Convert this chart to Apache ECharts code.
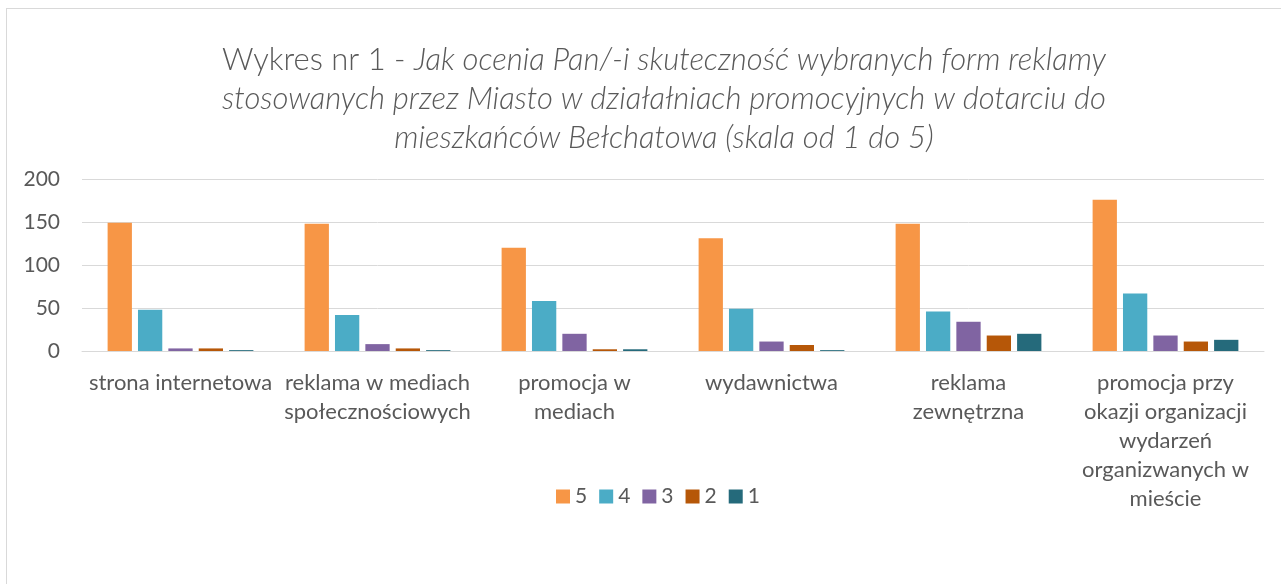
<!DOCTYPE html>
<html>
<head>
<meta charset="utf-8">
<script src="https://cdn.jsdelivr.net/npm/echarts@6/dist/echarts.min.js"></script>
<style>
  html, body { margin: 0; padding: 0; background: #fff; }
  #frame { position: absolute; left: 6px; top: 8px; width: 1300px; height: 600px; border: 1px solid #d9d9d9; box-sizing: border-box; }
  #chart { position: absolute; left: 0; top: 0; width: 1281px; height: 584px; }
</style>
</head>
<body>
<div id="frame"></div>
<div id="chart"></div>
<script>
const categories = [
  "strona internetowa",
  "reklama w mediach\nspołecznościowych",
  "promocja w\nmediach",
  "wydawnictwa",
  "reklama\nzewnętrzna",
  "promocja przy\nokazji organizacji\nwydarzeń\norganizwanych w\nmieście"
];
const seriesNames = ["5", "4", "3", "2", "1"];
const values5 = [149, 148, 120, 131, 148, 176];
const values4 = [48, 42, 58, 49, 46, 67];
const values3 = [3, 8, 20, 11, 34, 18];
const values2 = [3, 3, 2, 7, 18, 11];
const values1 = [1, 1, 2, 1, 20, 13];
const yTicks = { min: 0, max: 200, interval: 50 };
const colors = ["#F79646", "#4BACC6", "#8064A2", "#B65708", "#256A7B"];
const titleText = '{n|Wykres nr 1 - }{i|Jak ocenia Pan/-i skuteczność wybranych form reklamy}\n{i|stosowanych przez Miasto w działałniach promocyjnych w dotarciu do}\n{i|mieszkańców Bełchatowa (skala od 1 do 5)}';

const allValues = [values5, values4, values3, values2, values1];
const textColor = "#595959";
const font = "Lato, 'Liberation Sans', sans-serif";

const chart = echarts.init(document.getElementById('chart'), null, { renderer: 'canvas' });
chart.setOption({
  animation: false,
  backgroundColor: 'transparent',
  color: colors,
  graphic: [{
    type: 'text',
    x: 664,
    y: 40,
    style: {
      text: titleText,
      align: 'center',
      verticalAlign: 'top',
      rich: {
        n: { fontFamily: font, fontSize: 31, fontWeight: 300, fill: textColor, lineHeight: 39 },
        i: { fontFamily: font, fontSize: 31, fontWeight: 300, fontStyle: 'italic', fill: textColor, lineHeight: 39 }
      }
    }
  }],
  legend: {
    left: 551,
    top: 481,
    itemWidth: 14,
    itemHeight: 14,
    itemGap: 12,
    icon: 'rect',
    data: seriesNames,
    textStyle: { fontFamily: font, fontSize: 21, color: textColor }
  },
  grid: { left: 82, right: 17, top: 179, bottom: 233, containLabel: false },
  xAxis: {
    type: 'category',
    data: categories,
    axisLine: { show: true, lineStyle: { color: '#d9d9d9', width: 1 } },
    axisTick: { show: false },
    axisLabel: {
      interval: 0,
      margin: 17,
      fontFamily: font,
      fontSize: 22,
      color: textColor,
      lineHeight: 29,
      align: 'center'
    }
  },
  yAxis: {
    type: 'value',
    min: yTicks.min,
    max: yTicks.max,
    interval: yTicks.interval,
    axisLine: { show: false },
    axisTick: { show: false },
    axisLabel: { fontFamily: font, fontSize: 21, color: textColor, margin: 22 },
    splitLine: { lineStyle: { color: '#d9d9d9', width: 1 } }
  },
  series: seriesNames.map((name, i) => ({
    name: name,
    type: 'bar',
    data: allValues[i],
    barGap: '25%',
    barCategoryGap: '26%',
    itemStyle: { color: colors[i] }
  }))
});
</script>
</body>
</html>
